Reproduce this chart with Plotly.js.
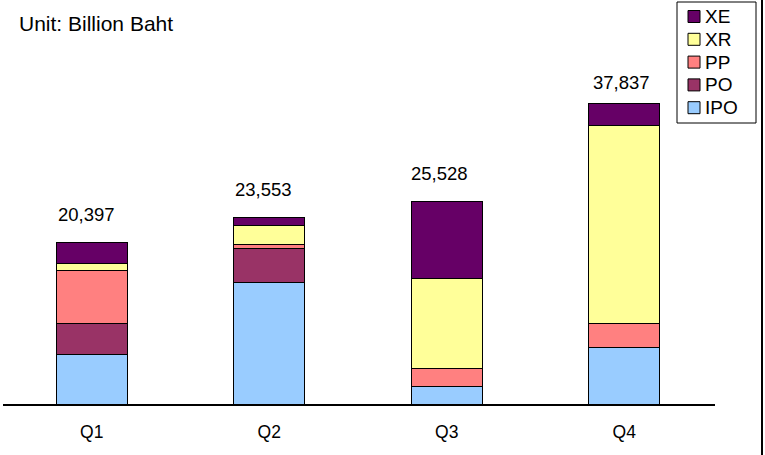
<!DOCTYPE html>
<html>
<head>
<meta charset="utf-8">
<script src="https://cdn.plot.ly/plotly-3.0.1.min.js"></script>
<style>html,body{margin:0;padding:0;background:#fff;}#chart{width:765px;height:455px;}</style>
</head>
<body>
<div id="chart"></div>
<script>
const categories = ['Q1', 'Q2', 'Q3', 'Q4'];
const IPO = [6295, 15324, 2282, 7248];
const PO  = [3963, 4339, 0, 0];
const PP  = [6608, 464, 2332, 2934];
const XR  = [915, 2345, 11286, 24829];
const XE  = [2616, 1081, 9628, 2826];
const totals = [20397, 23553, 25528, 37837];
const seriesNames = ['IPO', 'PO', 'PP', 'XR', 'XE'];
const seriesColors = ['#99CCFF', '#993366', '#FF8080', '#FFFF99', '#660066'];

const FONT = '"Liberation Sans", Arial, sans-serif';
const W = 765, H = 455;
const M = {l: 3, r: 52, t: 5, b: 50};
const px2x = px => (px - M.l) / (W - M.l - M.r);
const px2y = py => (H - M.b - py) / (H - M.t - M.b);

const seriesData = [IPO, PO, PP, XR, XE];
const traces = seriesNames.map((n, i) => ({
  type: 'bar', name: n, x: categories, y: seriesData[i],
  marker: {color: seriesColors[i], line: {color: '#000', width: 1}},
  hoverinfo: 'skip', showlegend: false
}));

const labelShiftY = [27.5, 27.5, 27.5, 21];
const labelShiftX = [-5, -5.5, -7, -2.5];
const annotations = categories.map((c, i) => ({
  x: c, y: totals[i], xref: 'x', yref: 'y',
  text: totals[i].toLocaleString('en-US'),
  showarrow: false, yanchor: 'middle',
  yshift: labelShiftY[i], xshift: labelShiftX[i],
  font: {family: FONT, size: 18.5, color: '#000'}
}));
annotations.push({
  xref: 'paper', yref: 'paper', x: px2x(17), y: px2y(23),
  xanchor: 'left', yanchor: 'middle', showarrow: false,
  text: 'Unit: Billion Baht',
  font: {family: FONT, size: 21, color: '#000'}
});

const shapes = [{
  type: 'line', xref: 'paper', yref: 'paper',
  x0: px2x(762), x1: px2x(762), y0: px2y(H + 2), y1: px2y(-2),
  line: {color: '#000', width: 2}
}, {
  type: 'line', xref: 'paper', yref: 'paper',
  x0: px2x(3), x1: px2x(715), y0: 0, y1: 0,
  line: {color: '#000', width: 2}
}, {
  type: 'rect', xref: 'paper', yref: 'paper',
  x0: px2x(677), x1: px2x(756), y0: px2y(123), y1: px2y(2),
  line: {color: '#000', width: 1}, fillcolor: '#fff', layer: 'above'
}];

// legend (top = last series)
const legendOrder = seriesNames.map((_, i) => seriesNames.length - 1 - i);
legendOrder.forEach((si, row) => {
  const cy = 16.5 + row * 22.8;
  shapes.push({
    type: 'rect', xref: 'paper', yref: 'paper',
    x0: px2x(688), x1: px2x(700), y0: px2y(cy + 6), y1: px2y(cy - 6),
    line: {color: '#000', width: 1}, fillcolor: seriesColors[si], layer: 'above'
  });
  annotations.push({
    xref: 'paper', yref: 'paper', x: px2x(703), y: px2y(cy),
    xanchor: 'left', yanchor: 'middle', showarrow: false,
    text: seriesNames[si],
    font: {family: FONT, size: 19, color: '#000'}
  });
});

const layout = {
  width: W, height: H,
  margin: M,
  paper_bgcolor: '#fff', plot_bgcolor: '#fff',
  barmode: 'stack', bargap: 0.6,
  font: {family: FONT, color: '#000'},
  xaxis: {
    showline: false,
    showgrid: false, zeroline: false, ticks: '',
    tickfont: {family: FONT, size: 17.5, color: '#000'},
    ticklabelstandoff: 14
  },
  yaxis: {range: [0, 50148], visible: false, showgrid: false, zeroline: false},
  showlegend: false,
  shapes: shapes,
  annotations: annotations,
  hovermode: false
};

Plotly.newPlot('chart', traces, layout, {displayModeBar: false, staticPlot: true});
</script>
</body>
</html>
